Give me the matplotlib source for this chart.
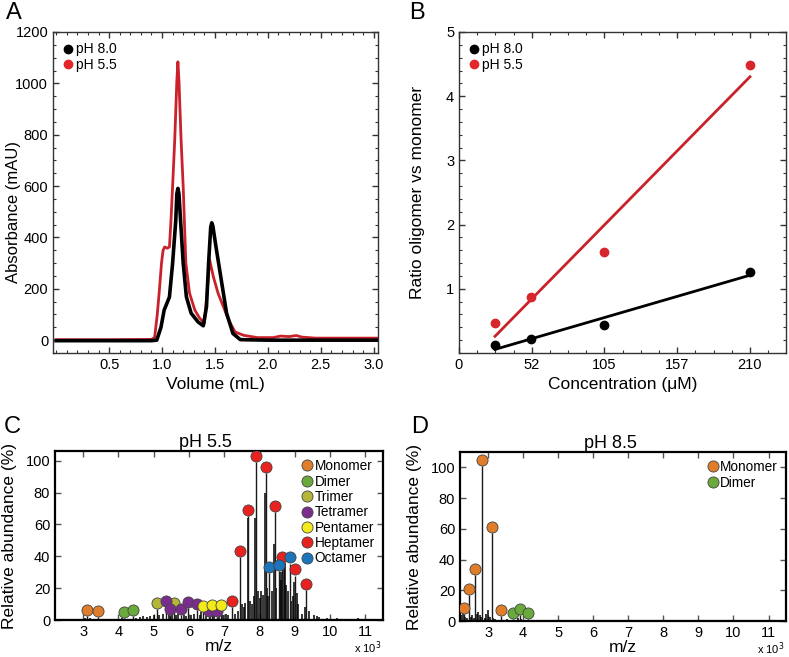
import numpy as np
import matplotlib
matplotlib.use('Agg')
import matplotlib.pyplot as plt
from matplotlib.lines import Line2D
from matplotlib.ticker import MultipleLocator

plt.rcParams['font.family'] = ['Liberation Sans', 'DejaVu Sans']

# ---- Panel A: size exclusion chromatograms ----
vol_ph80 = [0, 0.5, 0.9, 0.95, 0.99, 1.02, 1.07, 1.10, 1.13, 1.14, 1.15, 1.16, 1.175, 1.20, 1.23,
            1.275, 1.34, 1.39, 1.42, 1.44, 1.46, 1.47, 1.48, 1.51, 1.56, 1.61, 1.67, 1.74, 2.0, 3.05]
abs_ph80 = [-2, -2, -2, 0, 50, 117, 168, 300, 467, 570, 591, 570, 467, 300, 169,
            105, 71, 56, 130, 300, 440, 457, 445, 363, 234, 105, 26, 2, 0, 0]

vol_ph55 = [0, 0.5, 0.9, 0.93, 0.955, 0.975, 0.995, 1.01, 1.025, 1.05, 1.07, 1.085, 1.10, 1.12,
            1.14, 1.15, 1.16, 1.18, 1.20, 1.225, 1.26, 1.31, 1.355, 1.40, 1.43, 1.45, 1.485,
            1.53, 1.58, 1.63, 1.69, 1.77, 1.9, 2.05, 2.12, 2.2, 2.27, 2.32, 2.45, 3.05]
abs_ph55 = [2, 2, 3, 10, 100, 195, 300, 350, 363, 358, 363, 470, 600, 780,
            1010, 1084, 1010, 780, 597, 300, 183, 117, 86, 66, 208, 312, 247,
            182, 130, 78, 32, 19, 10, 10, 16, 14, 18, 12, 8, 8]

# ---- Panel B: oligomer / monomer ratio ----
conc = [26, 52, 105, 210]
ratio_ph80 = [0.12, 0.22, 0.44, 1.26]
ratio_ph55 = [0.47, 0.87, 1.57, 4.48]

# ---- Panel C: native MS pH 5.5 (m/z in 10^3) ----
species = ['Monomer', 'Dimer', 'Trimer', 'Tetramer', 'Pentamer', 'Heptamer', 'Octamer']
colors = ['#e07d2a', '#6aaa3c', '#b5b53a', '#7b2d8e', '#f3ea1c', '#e8231f', '#1c74bb']

c_mz = {
    'Monomer': [3.12, 3.43],
    'Dimer': [4.16, 4.40],
    'Trimer': [5.08, 5.57],
    'Tetramer': [5.35, 5.47, 5.76, 5.97, 6.22, 6.56, 6.79],
    'Pentamer': [6.41, 6.66, 6.90],
    'Heptamer': [7.23, 7.45, 7.67, 7.90, 8.17, 8.43, 8.65, 9.01, 9.33],
    'Octamer': [8.28, 8.54, 8.85],
}
c_int = {
    'Monomer': [2.5, 2.0],
    'Dimer': [1.5, 2.5],
    'Trimer': [7, 7],
    'Tetramer': [8, 3, 3.5, 7.5, 6.5, 2, 2],
    'Pentamer': [5, 5.5, 5.5],
    'Heptamer': [8.5, 39.5, 65, 99, 92.5, 68, 35.5, 28, 19],
    'Octamer': [29.5, 31, 35.5],
}
c_noise_mz = [2.75, 2.9, 3.05, 3.2, 3.3, 3.55, 3.7, 3.85, 4.0, 4.1, 4.25, 4.5, 4.6, 4.7, 4.8,
              4.9, 5.0, 5.15, 5.25, 5.42, 5.52, 5.62, 5.7, 5.85, 5.92, 6.05, 6.15, 6.3, 6.35,
              6.48, 6.6, 6.72, 6.85, 6.95, 7.05, 7.1, 7.3, 7.38, 7.5, 7.55, 7.6, 7.66, 7.72,
              7.78, 7.85, 7.88, 7.95, 8.0, 8.05, 8.1, 8.15, 8.22, 8.25, 8.35, 8.41, 8.48,
              8.6, 8.62, 8.68, 8.72, 8.75, 8.8, 8.9, 8.95, 8.98, 9.05, 9.1, 9.2, 9.28, 9.4,
              9.55, 9.62, 9.7, 9.9, 10.0, 10.2, 10.4, 10.6, 10.8, 11.0, 11.2]
c_noise_int = [0.8, 1, 1.2, 1.5, 1, 0.8, 1, 0.6, 0.8, 1.2, 1, 1.5, 1.8, 2.5, 2,
               2.5, 3, 3.5, 4, 3, 5, 3.5, 4, 3, 2.5, 3, 4, 3.5, 5,
               6, 4, 5, 4.5, 3, 4, 3, 4, 6, 10, 8, 11, 64, 12,
               10, 15, 64, 18, 14, 18, 16, 80, 20, 15, 18, 48, 20,
               25, 30, 35, 36, 22, 18, 12, 15, 24, 17, 10, 4, 8, 6,
               3, 2.5, 2, 1.5, 1, 1.2, 1, 1, 1.2, 0.8, 0.8]

# ---- Panel D: native MS pH 8.5 ----
d_mz = {
    'Monomer': [2.32, 2.46, 2.63, 2.84, 3.10, 3.37],
    'Dimer': [3.70, 3.91, 4.13],
}
d_int = {
    'Monomer': [5, 17, 30, 101, 57.5, 3.5],
    'Dimer': [1.5, 4, 1.5],
}
d_noise_mz = [2.22, 2.28, 2.35, 2.4, 2.5, 2.55, 2.6, 2.68, 2.72, 2.76, 2.8, 2.9, 2.95, 3.0,
              3.05, 3.15, 3.2, 3.3, 3.45, 3.55, 3.6, 3.75, 3.85, 3.95, 4.05, 4.2, 4.4, 4.6,
              4.85, 5.05, 6.0, 7.0, 8.3, 8.6, 9.0, 10.5]
d_noise_int = [4, 6, 3, 2, 3, 4, 2, 5, 6, 4, 3, 2, 5, 7,
               3, 2, 1.5, 1, 1, 1.5, 1, 1, 2, 1.5, 1, 1, 0.8, 1,
               0.8, 0.6, 0.5, 0.5, 0.5, 0.5, 0.5, 0.5]

red = '#c9222a'
fig = plt.figure(figsize=(7.89, 6.57), dpi=100)

axA = fig.add_axes([0.0672, 0.4627, 0.4118, 0.4886])
axB = fig.add_axes([0.5817, 0.4627, 0.4145, 0.4886])
axC = fig.add_axes([0.0697, 0.0560, 0.4157, 0.2575])
axD = fig.add_axes([0.5830, 0.0545, 0.4133, 0.2575])


def style_axes(ax, lw, color):
    for s in ax.spines.values():
        s.set_linewidth(lw)
        s.set_color(color)
    ax.tick_params(which='both', direction='in', top=True, right=True, labelsize=10.5,
                   color=color)
    ax.tick_params(which='major', length=4, width=1)
    ax.tick_params(which='minor', length=2.5, width=0.8)


def ph_legend(ax):
    ax.legend(handles=[Line2D([], [], ls='', marker='o', ms=6, color='black', label='pH 8.0'),
                       Line2D([], [], ls='', marker='o', ms=6, color='#e2262b', label='pH 5.5')],
              loc='upper left', frameon=False, fontsize=10, handlelength=0.6,
              handletextpad=0.3, labelspacing=0.1, borderaxespad=0.35)


# Panel A
axA.plot(vol_ph80, abs_ph80, color='black', lw=2.6, zorder=3)
axA.plot(vol_ph55, abs_ph55, color=red, lw=2.0, zorder=2)
axA.set_xlim(-0.03, 3.04)
axA.set_ylim(-50, 1200)
axA.set_xticks([0.5, 1.0, 1.5, 2.0, 2.5, 3.0])
axA.set_yticks([0, 200, 400, 600, 800, 1000, 1200])
axA.xaxis.set_minor_locator(MultipleLocator(0.1))
axA.yaxis.set_minor_locator(MultipleLocator(50))
style_axes(axA, 1.0, '#333333')
axA.set_xlabel('Volume (mL)', fontsize=12.5)
axA.set_ylabel('Absorbance (mAU)', fontsize=12)
axA.yaxis.set_label_coords(-0.10, 0.44)
ph_legend(axA)

# Panel B
xfit = np.array([conc[0], conc[-1]])
for yv, col in [(ratio_ph80, 'black'), (ratio_ph55, red)]:
    k, b = np.polyfit(conc, yv, 1)
    axB.plot(xfit, k * xfit + b, color=col, lw=2.0)
axB.plot(conc, ratio_ph80, 'o', color='black', ms=6)
axB.plot(conc, ratio_ph55, 'o', color='#d6262b', ms=6)
axB.set_xlim(0, 236)
axB.set_ylim(0, 5)
axB.set_xticks([0, 52.5, 105, 157.5, 210])
axB.set_xticklabels(['0', '52', '105', '157', '210'])
axB.set_yticks([1, 2, 3, 4, 5])
axB.xaxis.set_minor_locator(MultipleLocator(13.125))
axB.yaxis.set_minor_locator(MultipleLocator(0.2))
style_axes(axB, 1.0, '#333333')
axB.set_xlabel('Concentration (μM)', fontsize=12.5)
axB.set_ylabel('Ratio oligomer vs monomer', fontsize=12.5)
axB.yaxis.set_label_coords(-0.104, 0.5)
ph_legend(axB)


def spectrum(ax, mz_d, int_d, noise_mz, noise_int, names, ymax, title):
    ax.vlines(noise_mz, 0, noise_int, color='black', lw=1.1)
    handles = []
    for name in names:
        col = colors[species.index(name)]
        ax.vlines(mz_d[name], 0, int_d[name], color='#1a1a1a', lw=1.0)
        ax.plot(mz_d[name], np.array(int_d[name]) + 3.8, 'o', ls='', ms=8,
                mfc=col, mec='#444444', mew=0.6, zorder=4)
        handles.append(Line2D([], [], ls='', marker='o', ms=8, mfc=col,
                              mec='#444444', mew=0.6, label=name))
    ax.axhline(0, color='black', lw=1.5)
    ax.set_xlim(2.2, 11.5)
    ax.set_ylim(0, ymax)
    ax.set_xticks(range(3, 12))
    ax.set_yticks([0, 20, 40, 60, 80, 100])
    style_axes(ax, 1.6, 'black')
    ax.tick_params(which='major', length=4, width=1, color='#555555')
    ax.set_xlabel('m/z', fontsize=12.5, labelpad=0)
    ax.set_ylabel('Relative abundance (%)', fontsize=12.5)
    ax.yaxis.set_label_coords(-0.115, 0.5)
    ax.set_title(title, fontsize=13, pad=2, x=0.46)
    ax.text(0.995, -0.16, 'x 10$^3$', transform=ax.transAxes, fontsize=8,
            ha='right', va='center')
    ax.legend(handles=handles, loc='upper right', frameon=False, fontsize=9.8,
              handlelength=0.8, handletextpad=0.15, labelspacing=0.1,
              borderaxespad=0.3, borderpad=0.3)


spectrum(axC, c_mz, c_int, c_noise_mz, c_noise_int, species, 106, 'pH 5.5')
spectrum(axD, d_mz, d_int, d_noise_mz, d_noise_int, ['Monomer', 'Dimer'], 110, 'pH 8.5')

for lab, x, y in [('A', 0.008, 0.98), ('B', 0.519, 0.98), ('C', 0.005, 0.35), ('D', 0.521, 0.35)]:
    fig.text(x, y, lab, fontsize=17, va='center', ha='left')

fig.savefig('out.png', dpi=100)
